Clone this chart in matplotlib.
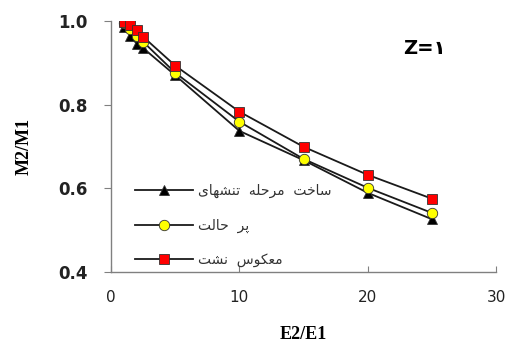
import matplotlib
matplotlib.use("Agg")
import matplotlib.pyplot as plt

# E2/E1 ratios and the M2/M1 response of each loading case
ratio = [1, 1.5, 2, 2.5, 5, 10, 15, 20, 25]
construction = [0.985, 0.965, 0.945, 0.935, 0.870, 0.737, 0.667, 0.589, 0.526]
full_reservoir = [0.995, 0.980, 0.965, 0.950, 0.876, 0.759, 0.670, 0.601, 0.541]
reverse_seepage = [0.998, 0.990, 0.977, 0.962, 0.893, 0.783, 0.699, 0.632, 0.575]

labels = ["تنشهای مرحله ساخت", "حالت پر", "نشت معکوس"]
panel_label = "Z=۱"

xticks = [0, 10, 20, 30]
yticks = [0.4, 0.6, 0.8, 1.0]

# contextual forms: isolated, final, initial, medial (right-joining letters have two)
FORMS = {
    "ت": (0xFE95, 0xFE96, 0xFE97, 0xFE98),
    "ن": (0xFEE5, 0xFEE6, 0xFEE7, 0xFEE8),
    "ش": (0xFEB5, 0xFEB6, 0xFEB7, 0xFEB8),
    "ه": (0xFEE9, 0xFEEA, 0xFEEB, 0xFEEC),
    "ی": (0xFBFC, 0xFBFD, 0xFBFE, 0xFBFF),
    "م": (0xFEE1, 0xFEE2, 0xFEE3, 0xFEE4),
    "ح": (0xFEA1, 0xFEA2, 0xFEA3, 0xFEA4),
    "ل": (0xFEDD, 0xFEDE, 0xFEDF, 0xFEE0),
    "س": (0xFEB1, 0xFEB2, 0xFEB3, 0xFEB4),
    "خ": (0xFEA5, 0xFEA6, 0xFEA7, 0xFEA8),
    "پ": (0xFB56, 0xFB57, 0xFB58, 0xFB59),
    "ک": (0xFB8E, 0xFB8F, 0xFB90, 0xFB91),
    "ع": (0xFEC9, 0xFECA, 0xFECB, 0xFECC),
    "ا": (0xFE8D, 0xFE8E),
    "ر": (0xFEAD, 0xFEAE),
    "و": (0xFEED, 0xFEEE),
}


def shape_word(word):
    """Join the letters of one Persian word and lay them out right-to-left."""
    out = []
    n = len(word)
    for i, ch in enumerate(word):
        forms = FORMS.get(ch)
        if forms is None:
            out.append(ch)
            continue
        prev = word[i - 1] if i > 0 else ""
        nxt = word[i + 1] if i + 1 < n else ""
        joins_prev = prev in FORMS and len(FORMS[prev]) == 4
        joins_next = len(forms) == 4 and nxt in FORMS
        if joins_prev and joins_next:
            code = forms[3]
        elif joins_prev:
            code = forms[1]
        elif joins_next:
            code = forms[2]
        else:
            code = forms[0]
        out.append(chr(code))
    return "".join(reversed(out))


def shape(text):
    # words keep their left-to-right sequence, as in the legend of the figure
    return "  ".join(shape_word(w) for w in text.split(" "))


fig = plt.figure(figsize=(5.14, 3.42), dpi=100)
ax = fig.add_axes([0.216, 0.205, 0.749, 0.734])

series = [
    (construction, "^", "black", labels[0]),
    (full_reservoir, "o", "#ffff00", labels[1]),
    (reverse_seepage, "s", "#ff0000", labels[2]),
]
for values, marker, face, label in series:
    ax.plot(ratio, values, color="#1a1a1a", lw=1.3, marker=marker,
            markersize=7.5, markerfacecolor=face, markeredgecolor="#333333",
            markeredgewidth=0.6, label=shape(label))

ax.set_xlim(0, 30)
ax.set_ylim(0.4, 1.0)
ax.set_xticks(xticks)
ax.set_yticks(yticks)
ax.set_xticklabels([str(t) for t in xticks], fontsize=11, color="#222222",
                   family="DejaVu Sans")
ax.set_yticklabels([f"{t:.1f}" for t in yticks], fontsize=12, fontweight="bold",
                   color="#222222")

for side in ("top", "right"):
    ax.spines[side].set_visible(False)
for side in ("left", "bottom"):
    ax.spines[side].set_color("#808080")
    ax.spines[side].set_linewidth(1.0)
ax.tick_params(axis="y", direction="out", length=5, color="#808080", pad=12)
ax.tick_params(axis="x", direction="in", length=4, color="#808080", pad=13)

ax.set_ylabel("M2/M1", family="Liberation Serif", fontweight="bold",
              fontsize=13, labelpad=18)
ax.set_xlabel("E2/E1", family="Liberation Serif", fontweight="bold",
              fontsize=13, labelpad=15)

ax.text(0.815, 0.89, panel_label, transform=ax.transAxes,
        fontsize=14, fontweight="bold", ha="center", va="center",
        family="DejaVu Sans")

leg = ax.legend(loc="lower left", bbox_to_anchor=(0.03, -0.03), frameon=False,
                handlelength=4.2, labelspacing=1.45, handletextpad=0.3,
                prop={"family": "DejaVu Sans", "size": 10})
for t in leg.get_texts():
    t.set_color("#333333")

fig.savefig("out.png", dpi=100)
